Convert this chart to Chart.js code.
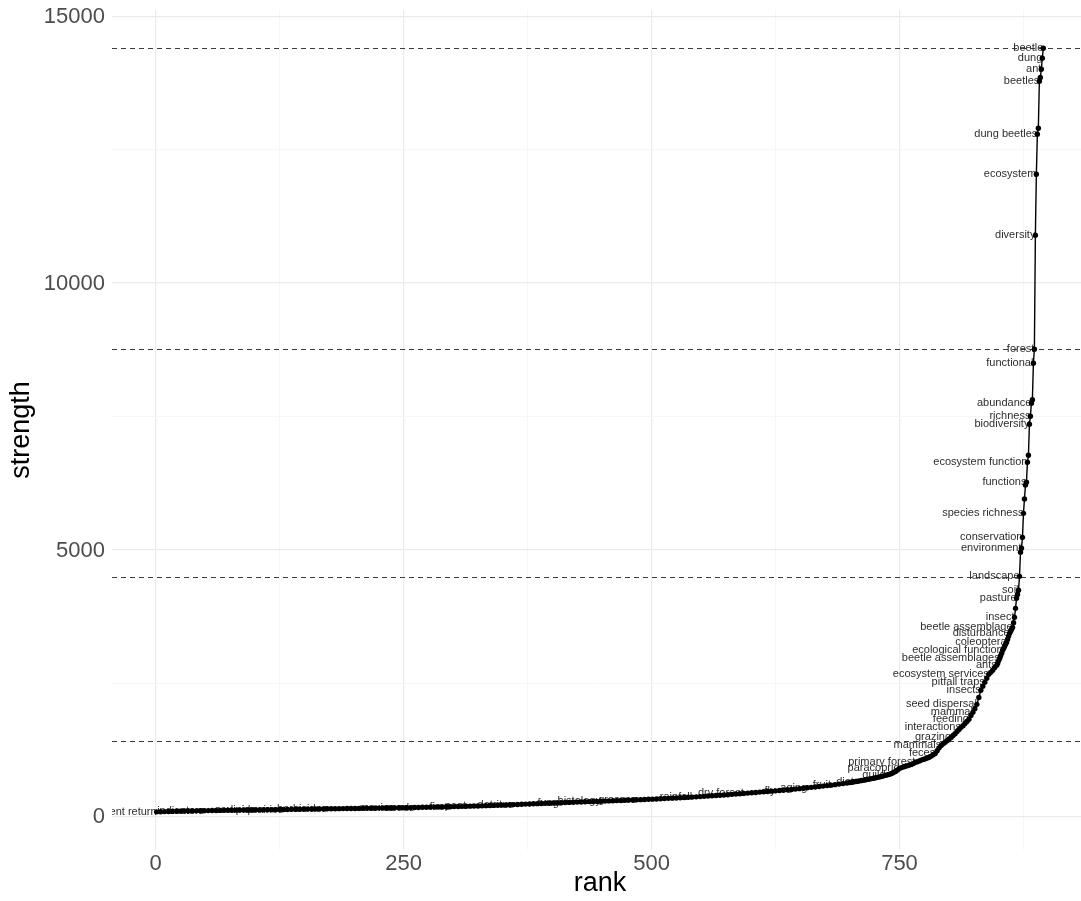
<!DOCTYPE html>
<html>
<head>
<meta charset="utf-8">
<script src="https://cdn.jsdelivr.net/npm/chart.js@4"></script>
<style>
  html, body { margin: 0; padding: 0; background: #fff; }
</style>
</head>
<body>
<canvas id="chart" width="1081" height="901"></canvas>
<script>
// Term rank (x) and connection strength (y)
const ranks = [
  1,5,9,13,17,21,25,29,33,37,41,45,49,
  53,57,61,65,69,73,77,81,85,89,93,97,
  101,105,109,113,117,121,125,129,133,137,141,145,149,
  153,157,161,165,169,173,177,181,185,189,193,197,
  201,205,209,213,217,221,225,229,233,237,241,245,249,
  253,257,261,265,269,273,277,281,285,289,293,297,
  301,305,309,313,317,321,325,329,333,337,341,345,349,
  353,357,361,365,369,373,377,381,385,389,393,397,
  401,405,409,413,417,421,425,429,433,437,441,445,449,
  453,457,461,465,469,473,477,481,485,489,493,497,
  501,505,509,513,517,521,525,529,533,537,541,545,549,
  553,557,561,565,569,573,577,581,585,589,593,597,
  601,605,609,613,617,621,625,629,633,637,641,645,649,
  653,657,661,665,669,673,677,681,685,689,693,697,
  700,702,704,706,708,710,712,714,716,718,720,722,724,726,728,730,
  732,734,736,738,740,742,744,746,748,750,752,754,756,758,760,762,
  764,766,768,770,772,774,776,778,780,782,784,786,788,790,792,794,
  796,798,800,802,804,806,808,810,812,814,816,818,820,822,824,826,
  828,830,832,834,836,838,840,842,844,846,848,
  849,850,851,852,853,854,855,856,857,858,859,860,861,862,863,864,
  865,866,867,868,869,870,871,872,873,874,875,876,877,878,879,880,
  881,882,883,884,885,886,887,888,889,890,891,892,893,894,895
];
const strengths = [
  85,88,90,92,94,96,98,100,101,103,104,106,108,
  109,110,111,112,113,114,116,117,118,119,120,121,
  122,123,124,125,126,127,128,129,130,132,133,134,136,
  137,138,139,140,141,142,143,144,145,146,147,148,
  149,150,151,152,153,154,155,156,157,158,160,161,163,
  164,165,167,168,170,171,173,174,176,178,180,182,
  184,186,188,190,192,194,196,198,201,203,206,209,212,
  215,218,221,224,227,230,233,236,239,242,245,247,
  250,253,256,259,262,265,268,271,274,277,279,281,284,
  287,290,293,296,299,302,305,308,311,314,317,320,
  323,326,330,334,338,342,346,350,354,358,362,366,371,
  376,381,386,391,396,401,407,413,419,425,431,437,
  443,449,455,461,467,473,479,485,491,498,505,512,520,
  528,536,544,552,560,568,577,586,595,605,615,626,
  636,642,648,654,660,666,672,679,686,693,700,708,716,724,732,740,
  750,760,769,780,790,805,822,843,870,900,915,928,940,951,962,975,
  993,1013,1025,1040,1055,1068,1080,1095,1110,1130,1155,1181,1230,1285,1331,1360,
  1390,1420,1450,1481,1515,1550,1590,1630,1669,1700,1740,1780,1819,1890,1950,2020,
  2100,2230,2363,2440,2513,2590,2663,2700,2740,2790,2831,
  2870,2920,2963,3010,3060,3113,3150,3190,3230,3263,3320,3380,3431,3470,3510,3544,
  3630,3731,3900,4088,4160,4238,4500,4950,5025,5231,5681,5950,6210,6263,6638,6769,
  7350,7500,7744,7810,8494,8757,10894,12038,12788,12900,13780,13850,14006,14213,14400
];

// Terms printed next to their points
const labelRanks = [
  1,49,77,101,129,173,241,261,297,313,361,409,449,485,541,593,625,657,681,704,
  736,750,766,786,792,802,812,820,824,828,832,836,840,848,851,854,858,861,864,866,
  868,870,871,873,874,875,878,879,881,882,883,885,886,887,888,889,891,893,894,895
];
const labelTerms = [
  "nutrient return","indicators","sex","lipids","prairies","herbicides","mexico","seeds","fires","peat",
  "detritus","fungi","histology","grasses","rainfall","dry forest","fly","aging","fruit","diet",
  "guild","paracoprid","primary forest","feces","mammals","grazing","interactions","feeding","mammal","seed dispersal",
  "insects","pitfall traps","ecosystem services","ants","beetle assemblages","ecological function","coleoptera","disturbance","beetle assemblage","insect",
  "pasture","soil","landscape","environment","conservation","species richness","functions","ecosystem function","biodiversity","richness",
  "abundance","functional","forest","diversity","ecosystem","dung beetles","beetles","ant","dung","beetle"
];

// Dashed reference levels
const breakLevels = [14400, 8757, 4481, 1406];

// Axis ticks
const xTicks = [0, 250, 500, 750];
const xMinorTicks = [125, 375, 625, 875];
const yTicks = [0, 5000, 10000, 15000];
const yMinorTicks = [2500, 7500, 12500];

const FONT = '"Liberation Sans", Arial, Helvetica, sans-serif';

const points = ranks.map((r, i) => ({ x: r, y: strengths[i] }));

const overlay = {
  id: 'overlay',
  beforeDatasetsDraw(chart) {
    const { ctx, chartArea: a, scales: { x, y } } = chart;
    ctx.save();
    ctx.strokeStyle = '#3c3c3c';
    ctx.lineWidth = 1;
    ctx.setLineDash([5, 4]);
    breakLevels.forEach(v => {
      const py = Math.round(y.getPixelForValue(v)) + 0.5;
      ctx.beginPath();
      ctx.moveTo(a.left, py);
      ctx.lineTo(a.right, py);
      ctx.stroke();
    });
    ctx.setLineDash([]);
    ctx.beginPath();
    ctx.rect(a.left, a.top, a.right - a.left, a.bottom - a.top);
    ctx.clip();
    ctx.font = '11px ' + FONT;
    ctx.fillStyle = '#2e2e2e';
    ctx.textAlign = 'right';
    ctx.textBaseline = 'middle';
    labelRanks.forEach((r, i) => {
      const v = strengths[ranks.indexOf(r)];
      ctx.fillText(labelTerms[i], x.getPixelForValue(r), y.getPixelForValue(v));
    });
    ctx.restore();
  },
  afterDraw(chart) {
    const { ctx, chartArea: a, scales: { y } } = chart;
    ctx.save();
    // y tick labels
    ctx.fillStyle = '#4d4d4d';
    ctx.font = '22px ' + FONT;
    ctx.textAlign = 'right';
    ctx.textBaseline = 'middle';
    yTicks.forEach(v => ctx.fillText(String(v), a.left - 7, y.getPixelForValue(v) + 1));
    // axis titles
    ctx.fillStyle = '#000';
    ctx.font = '27px ' + FONT;
    ctx.textAlign = 'center';
    ctx.fillText('rank', 600, 884);
    ctx.translate(22, (a.top + a.bottom) / 2);
    ctx.rotate(-Math.PI / 2);
    ctx.fillText('strength', 0, 0);
    ctx.restore();
  }
};

const isMajorX = v => xTicks.includes(v);
const isMajorY = v => yTicks.includes(v);

new Chart(document.getElementById('chart'), {
  type: 'line',
  data: {
    datasets: [{
      data: points,
      borderColor: '#000',
      borderWidth: 1.4,
      pointRadius: 2.7,
      pointBackgroundColor: '#000',
      pointBorderWidth: 0,
      tension: 0
    }]
  },
  options: {
    responsive: false,
    devicePixelRatio: 1,
    animation: false,
    layout: { autoPadding: false, padding: { top: 10, right: 0, bottom: 0, left: 0 } },
    plugins: { legend: { display: false }, tooltip: { enabled: false } },
    scales: {
      x: {
        type: 'linear',
        min: -44,
        max: 933,
        afterBuildTicks: s => { s.ticks = [...xTicks, ...xMinorTicks].sort((p, q) => p - q).map(v => ({ value: v })); },
        afterFit: s => { s.height = 51; },
        ticks: {
          autoSkip: false,
          maxRotation: 0,
          padding: 1,
          color: '#4d4d4d',
          font: { family: FONT, size: 22 },
          callback: v => isMajorX(v) ? String(v) : ''
        },
        grid: {
          drawTicks: false,
          color: c => isMajorX(c.tick.value) ? '#ebebeb' : '#f5f5f5',
          lineWidth: c => isMajorX(c.tick.value) ? 1.2 : 0.8
        },
        border: { display: false }
      },
      y: {
        type: 'linear',
        min: -630,
        max: 15116,
        afterBuildTicks: s => { s.ticks = [...yTicks, ...yMinorTicks].sort((p, q) => p - q).map(v => ({ value: v })); },
        afterFit: s => { s.width = 112; },
        ticks: { display: false },
        grid: {
          drawTicks: false,
          color: c => isMajorY(c.tick.value) ? '#ebebeb' : '#f5f5f5',
          lineWidth: c => isMajorY(c.tick.value) ? 1.2 : 0.8
        },
        border: { display: false }
      }
    }
  },
  plugins: [overlay]
});
</script>
</body>
</html>
